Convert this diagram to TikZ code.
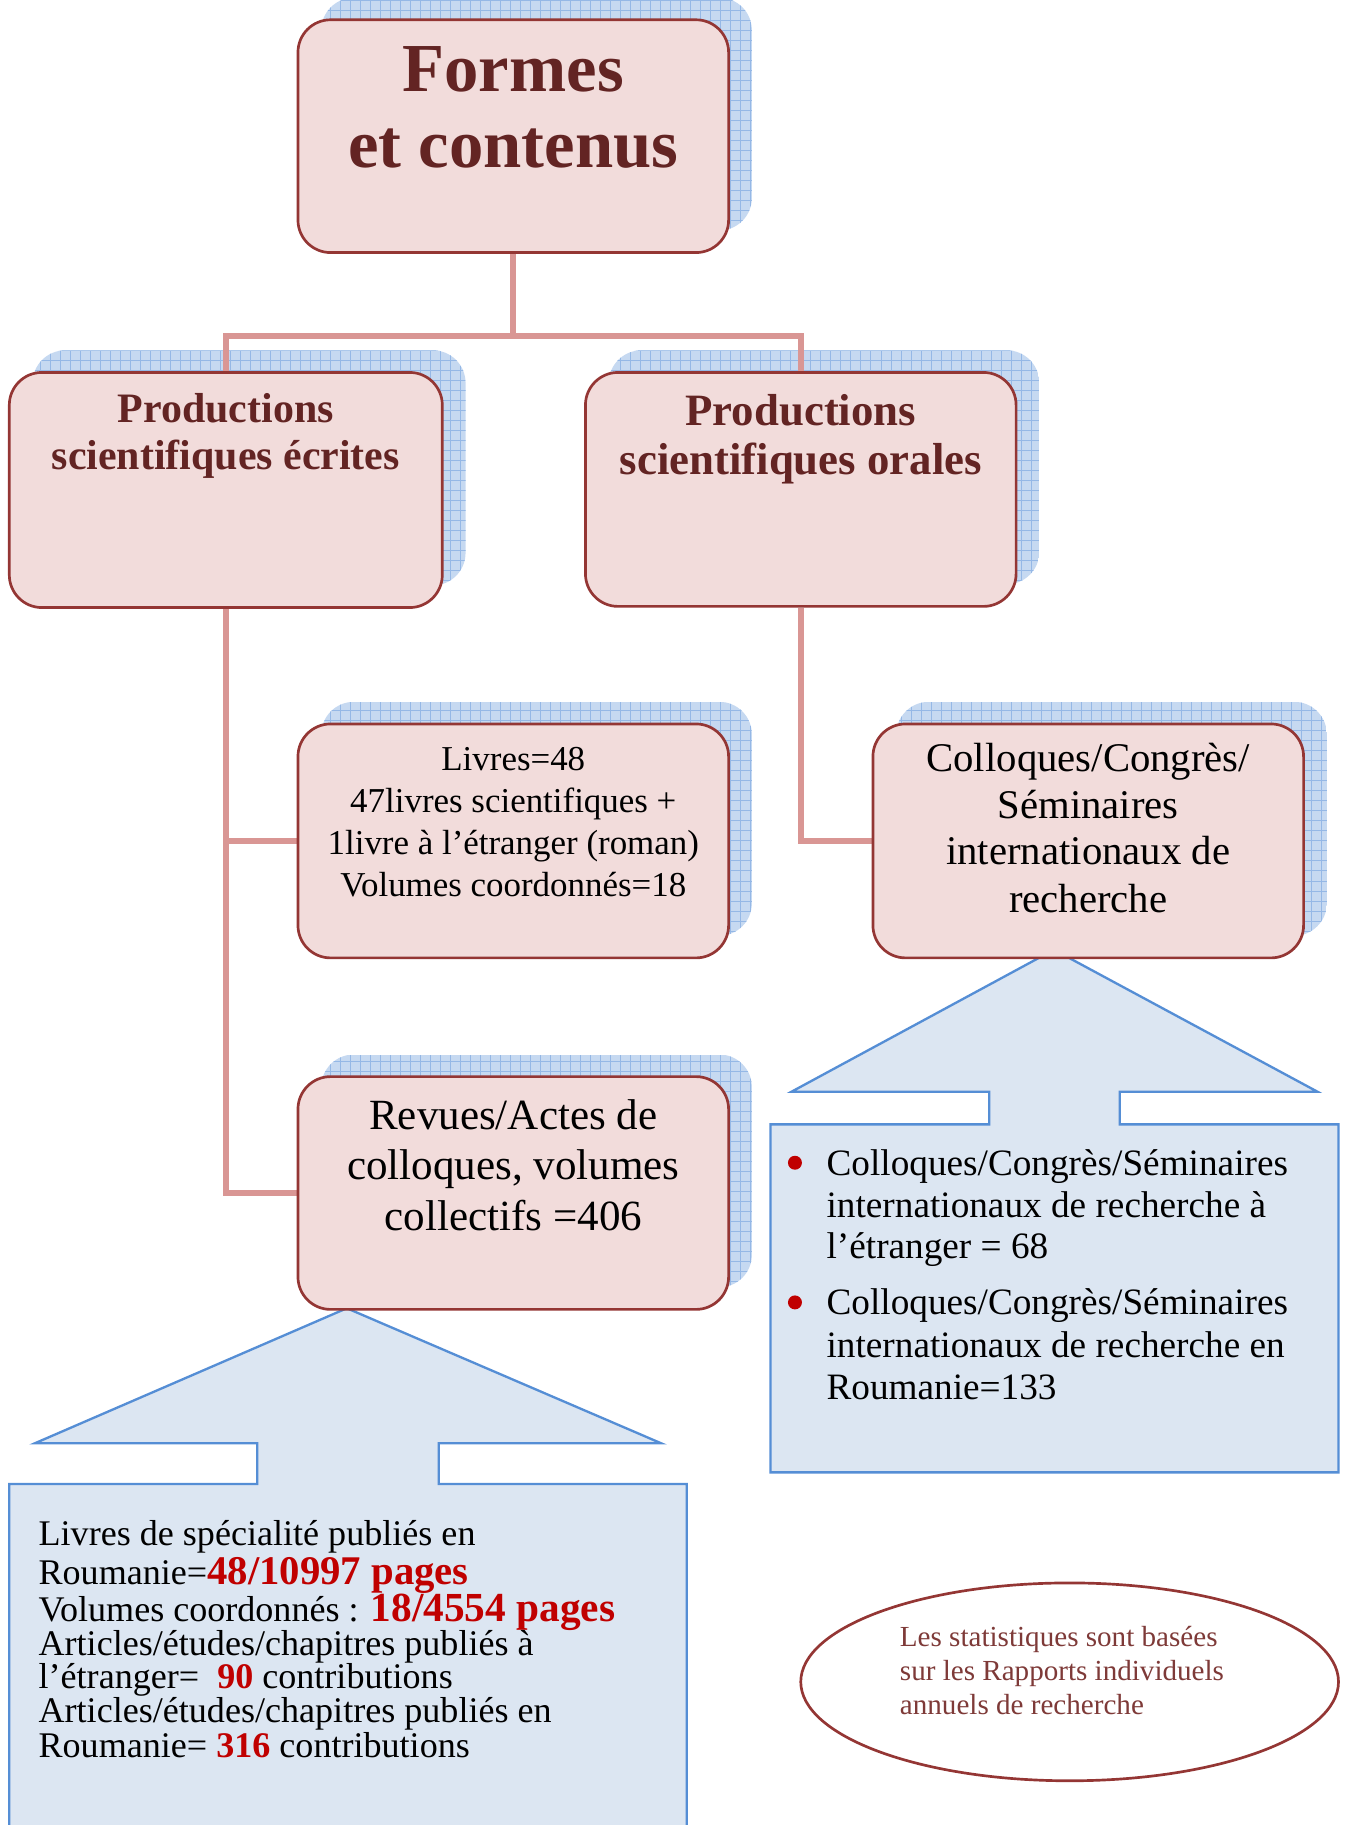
\documentclass[tikz,border=0pt]{standalone}
\usepackage{fontspec}
\setmainfont{Liberation Serif}
\usetikzlibrary{shapes.geometric}
\definecolor{boxfill}{HTML}{F2DCDB}
\definecolor{boxdraw}{HTML}{943634}
\definecolor{titlecol}{HTML}{632423}
\definecolor{conncol}{HTML}{D99694}
\definecolor{callfill}{HTML}{DCE6F2}
\definecolor{callline}{HTML}{558ED5}
\definecolor{shfillcol}{HTML}{C6D9F1}
\definecolor{shgridcol}{HTML}{95B8E6}
\definecolor{redcol}{HTML}{C00000}
\definecolor{notecol}{HTML}{7E3A38}
\newcommand\mkshadow[4]{%
  \begin{scope}
    \clip[rounded corners=28pt] (#1,#2) rectangle (#3,#4);
    \fill[shfillcol] (#1,#2) rectangle (#3,#4);
    \draw[shgridcol, line width=0.6pt, step=8.6pt] (#1,#2) grid (#3,#4);
  \end{scope}}
\begin{document}
\begin{tikzpicture}[x=1pt,y=-1pt,
  box/.style={draw=boxdraw, fill=boxfill, line width=2.3pt, rounded corners=28pt,
    inner sep=0pt, minimum width=370pt, minimum height=200pt},
  conn/.style={draw=conncol, line width=5pt},
  callout/.style={draw=callline, fill=callfill, line width=2pt, line join=miter},
  txt/.style={inner sep=0pt, anchor=base},
  ltxt/.style={inner sep=0pt, anchor=base west},
  ttl/.style={txt, text=titlecol, font=\fontsize{59}{66}\selectfont\bfseries},
  hdE/.style={txt, text=titlecol, font=\fontsize{36}{40}\selectfont\bfseries},
  hdO/.style={txt, text=titlecol, font=\fontsize{38.5}{43}\selectfont\bfseries},
  livt/.style={txt, font=\fontsize{30}{36}\selectfont},
  colt/.style={txt, font=\fontsize{35}{40}\selectfont},
  revt/.style={txt, font=\fontsize{37}{43}\selectfont},
  lct/.style={ltxt, font=\fontsize{31}{30}\selectfont},
  rct/.style={ltxt, font=\fontsize{32}{36}\selectfont},
  nt/.style={ltxt, text=notecol, font=\fontsize{25}{29}\selectfont}]
\useasboundingbox (0,0) rectangle (1156,1568);

% shadows
\mkshadow{276}{-2}{646}{198}
\mkshadow{28}{301}{400}{503}
\mkshadow{523}{301}{893}{502}
\mkshadow{276}{603}{646}{804}
\mkshadow{770}{603}{1140}{804}
\mkshadow{276}{906}{646}{1106}

% callouts
\path[callout] (221,1275) -- (221,1240) -- (30,1240) -- (298,1124) -- (568,1240)
  -- (377,1240) -- (377,1275) -- (590,1275) -- (590,1580) -- (8,1580) -- (8,1275) -- cycle;
\path[callout] (850,966) -- (850,938) -- (680,938) -- (905.5,816) -- (1132,938)
  -- (962,938) -- (962,966) -- (1150,966) -- (1150,1265) -- (662,1265) -- (662,966) -- cycle;

% box positions
\path (441,117) node[box, draw=none, fill=none] (title) {}
      (194,421) node[box, draw=none, fill=none, minimum width=372pt, minimum height=202pt] (prodE) {}
      (688,420.5) node[box, draw=none, fill=none, minimum height=201pt] (prodO) {}
      (441,722.5) node[box, draw=none, fill=none, minimum height=201pt] (livres) {}
      (935,722.5) node[box, draw=none, fill=none, minimum height=201pt] (colloq) {}
      (441,1025) node[box, draw=none, fill=none] (revues) {};

% connectors
\coordinate (j1) at (441,289);
\draw[conn] (title.south) -- (j1);
\draw[conn] (prodE.north) |- (j1) -| (prodO.north);
\draw[conn] (prodE.south) |- (revues.west);
\draw[conn] (prodE.south) |- (livres.west);
\draw[conn] (prodO.south) |- (colloq.west);

% boxes drawn
\node[box] (titleB) at (title) {};
\node[box, minimum width=372pt, minimum height=202pt] (prodEB) at (prodE) {};
\node[box, minimum height=201pt] (prodOB) at (prodO) {};
\node[box, minimum height=201pt] (livresB) at (livres) {};
\node[box, minimum height=201pt] (colloqB) at (colloq) {};
\node[box] (revuesB) at (revues) {};

% title text
\node[ttl] (t1) at (441,79) {Formes};
\node[ttl] (t2) at (441,144) {et contenus};
% productions
\node[hdE] (pe1) at (194,363) {Productions};
\node[hdE] (pe2) at (194,403) {scientifiques écrites};
\node[hdO] (po1) at (688,366) {Productions};
\node[hdO] (po2) at (688,408) {scientifiques orales};
% livres
\node[livt] (l1) at (441,662) {Livres=48};
\node[livt] (l2) at (441,698) {47livres scientifiques +};
\node[livt] (l3) at (441,734) {1livre à l’étranger (roman)};
\node[livt] (l4) at (441,770) {Volumes coordonnés=18};
% colloques
\node[colt] (c1) at (935,663) {Colloques/Congrès/};
\node[colt] (c2) at (935,703) {Séminaires};
\node[colt] (c3) at (935,743) {internationaux de};
\node[colt] (c4) at (935,784) {recherche};
% revues
\node[revt] (r1) at (441,970) {Revues/Actes de};
\node[revt] (r2) at (441,1013) {colloques, volumes};
\node[revt] (r3) at (441,1057) {collectifs =406};

% left callout text
\node[lct] (a1) at (33,1328) {Livres de spécialité publiés en};
\node[lct] (a2) at (33,1361) {Roumanie={\color{redcol}\fontsize{35}{36}\selectfont\bfseries 48/10997 pages}};
\node[lct] (a3) at (33,1393) {Volumes coordonnés : {\color{redcol}\fontsize{35.5}{36}\selectfont\bfseries 18/4554 pages}};
\node[lct] (a4) at (33,1422) {Articles/études/chapitres publiés à};
\node[lct] (a5) at (33,1451) {l’étranger=\ \ {\color{redcol}\bfseries 90} contributions};
\node[lct] (a6) at (33,1480) {Articles/études/chapitres publiés en};
\node[lct] (a7) at (33,1510) {Roumanie= {\color{redcol}\bfseries 316} contributions};

% right callout text
\node[circle, fill=redcol, inner sep=0pt, minimum size=12pt] (b1) at (683,999) {};
\node[circle, fill=redcol, inner sep=0pt, minimum size=12pt] (b2) at (683,1119) {};
\node[rct] (k1) at (710,1010) {Colloques/Congrès/Séminaires};
\node[rct] (k2) at (710,1046) {internationaux de recherche à};
\node[rct] (k3) at (710,1081) {l’étranger = 68};
\node[rct] (k4) at (710,1129) {Colloques/Congrès/Séminaires};
\node[rct] (k5) at (710,1166) {internationaux de recherche en};
\node[rct] (k6) at (710,1202) {Roumanie=133};

% note ellipse
\node[ellipse, draw=boxdraw, line width=2.3pt, minimum width=462pt, minimum height=170pt, inner sep=0pt] (note) at (919,1445) {};
\node[nt] (n1) at (773,1415) {Les statistiques sont basées};
\node[nt] (n2) at (773,1444) {sur les Rapports individuels};
\node[nt] (n3) at (773,1473) {annuels de recherche};
\end{tikzpicture}
\end{document}
